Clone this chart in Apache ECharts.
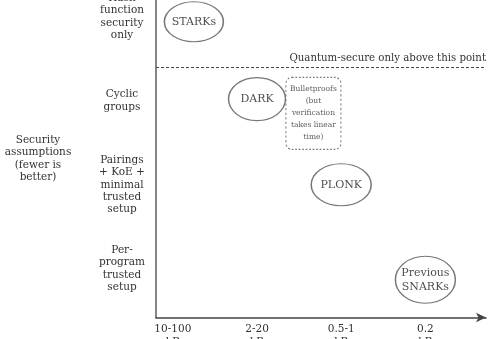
<!DOCTYPE html>
<html>
<head>
<meta charset="utf-8">
<script src="https://cdn.jsdelivr.net/npm/echarts@6/dist/echarts.min.js"></script>
<style>
  html, body { margin: 0; padding: 0; background: #fff; }
  #chart { width: 498px; height: 339px; }
</style>
</head>
<body>
<div id="chart"></div>
<script>
// Rows of the vertical axis: security assumptions, bottom to top
const rowValues = [0, 1, 2, 3];
const rowLabels = [
  'Per-\nprogram\ntrusted\nsetup',
  'Pairings\n+ KoE +\nminimal\ntrusted\nsetup',
  'Cyclic\ngroups',
  'Hash\nfunction\nsecurity\nonly'
];

// Columns of the horizontal axis: proof size, largest to smallest
const sizeValues = [0, 1, 2, 3];
const sizeLabels = ['10-100\nkB', '2-20\nkB', '0.5-1\nkB', '0.2\nkB'];

// Proof systems placed by proof size (x) and security assumption (y)
const schemeNames = ['STARKs', 'DARK', 'PLONK', 'Previous\nSNARKs'];
const schemeX = [0.25, 1.0, 2.0, 3.0];
const schemeY = [2.94, 2.02, 1.0, -0.13];

// Bulletproofs is drawn as a dashed box
const bulletName = 'Bulletproofs\n(but\nverification\ntakes linear\ntime)';
const bulletX = [1.67];
const bulletY = [1.85];

// Quantum-security threshold on the vertical axis
const quantumLevel = 2.4;
const quantumText = 'Quantum-secure only above this point';

const FONT = 'DejaVu Serif';
const TEXT = '#333';
const STROKE = '#555';

// Ellipse outline size per scheme
const ellipseSize = {
  'STARKs': [59, 40],
  'DARK': [57, 43],
  'PLONK': [60, 42],
  'Previous\nSNARKs': [60, 47]
};

const ellipseData = schemeNames.map((name, i) => ({
  name: name,
  value: [schemeX[i], schemeY[i]],
  symbolSize: ellipseSize[name]
}));

const boxData = bulletX.map((x, i) => ({
  name: bulletName,
  value: [x, bulletY[i]]
}));

const chart = echarts.init(document.getElementById('chart'), null, { renderer: 'canvas' });

chart.setOption({
  animation: false,
  backgroundColor: '#fff',
  textStyle: { fontFamily: FONT, color: TEXT },
  grid: { left: 156, right: 12, top: 0, bottom: 21.5, containLabel: false, outerBoundsMode: 'none' },
  xAxis: {
    type: 'value',
    min: -0.2,
    max: 3.72,
    axisLine: {
      show: true,
      onZero: false,
      symbol: ['none', 'arrow'],
      symbolSize: [7, 10],
      lineStyle: { color: '#444', width: 1.6 }
    },
    axisTick: { show: false },
    splitLine: { show: false },
    axisLabel: {
      customValues: sizeValues,
      formatter: v => sizeLabels[sizeValues.indexOf(Math.round(v))],
      margin: 6,
      fontFamily: FONT,
      fontSize: 10.5,
      lineHeight: 12.3,
      color: TEXT,
      align: 'center'
    }
  },
  yAxis: {
    type: 'value',
    min: -0.58,
    max: 3.2,
    name: 'Security\nassumptions\n(fewer is\nbetter)',
    nameLocation: 'middle',
    nameRotate: 0,
    nameGap: 118,
    nameTextStyle: {
      fontFamily: FONT,
      fontSize: 10.5,
      lineHeight: 12.3,
      color: TEXT,
      align: 'center',
      verticalAlign: 'middle'
    },
    axisLine: {
      show: true,
      onZero: false,
      lineStyle: { color: '#666', width: 1.6 }
    },
    axisTick: { show: false },
    splitLine: { show: false },
    axisLabel: {
      customValues: rowValues,
      formatter: v => rowLabels[rowValues.indexOf(Math.round(v))],
      margin: 34,
      fontFamily: FONT,
      fontSize: 10.5,
      lineHeight: 12.3,
      color: TEXT,
      align: 'center',
      verticalAlign: 'middle'
    }
  },
  series: [
    {
      type: 'scatter',
      symbol: 'circle',
      silent: true,
      clip: false,
      data: ellipseData,
      itemStyle: { color: '#fff', borderColor: STROKE, borderWidth: 1.3 },
      label: {
        show: true,
        position: 'inside',
        formatter: p => p.name,
        fontFamily: FONT,
        fontSize: 11,
        lineHeight: 14,
        color: '#222'
      },
      markLine: {
        silent: true,
        symbol: 'none',
        lineStyle: { type: [3, 2], color: '#444', width: 1 },
        label: {
          show: true,
          position: 'insideEndTop',
          distance: [0, 4],
          formatter: quantumText,
          fontFamily: FONT,
          fontSize: 10.2,
          color: TEXT
        },
        data: [{ yAxis: quantumLevel }]
      }
    },
    {
      type: 'scatter',
      symbol: 'path://M6,0 H49 A6,6 0 0 1 55,6 V66 A6,6 0 0 1 49,72 H6 A6,6 0 0 1 0,66 V6 A6,6 0 0 1 6,0 Z',
      symbolSize: [55, 72],
      silent: true,
      clip: false,
      data: boxData,
      itemStyle: { color: '#fff', borderColor: STROKE, borderWidth: 1.1, borderType: [2, 2] },
      label: {
        show: true,
        position: 'inside',
        formatter: p => p.name,
        fontFamily: FONT,
        fontSize: 7.5,
        lineHeight: 12,
        color: '#333'
      }
    }
  ]
});
</script>
</body>
</html>
